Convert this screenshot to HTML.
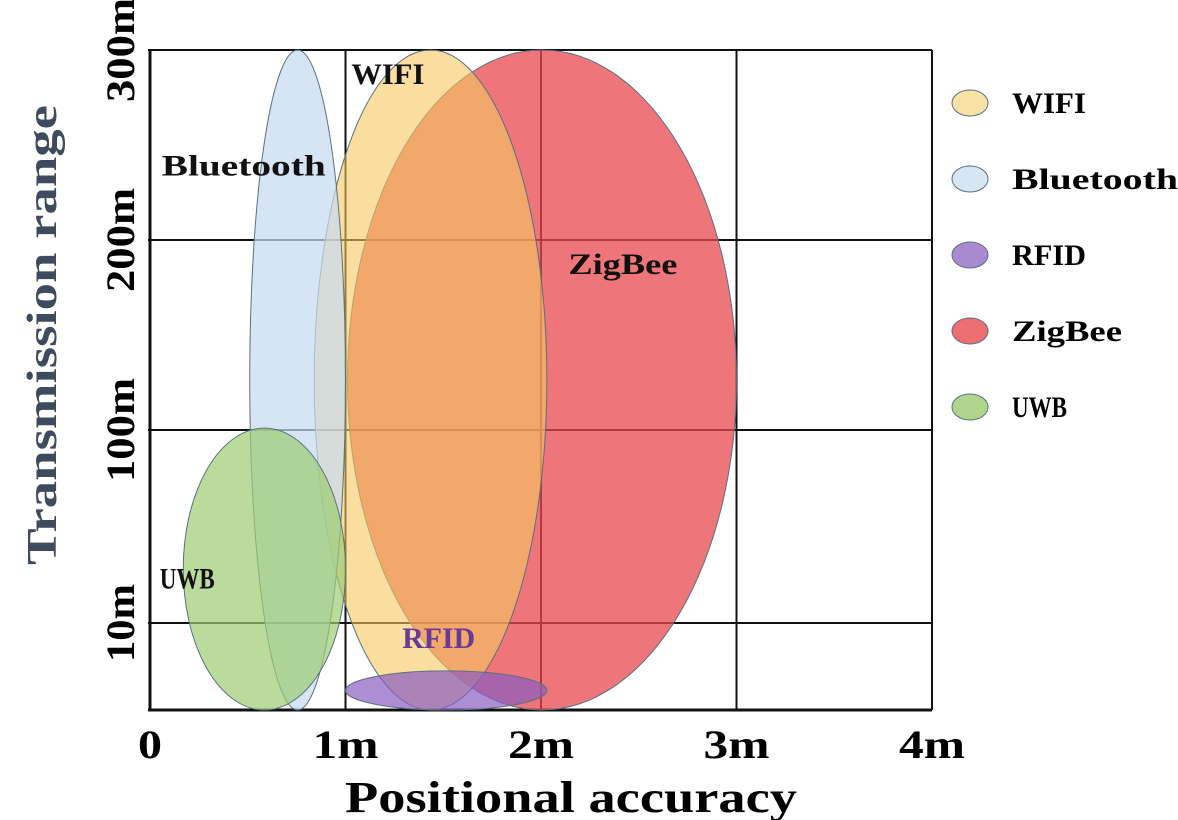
<!DOCTYPE html>
<html><head><meta charset="utf-8"><style>
body{margin:0;background:#fff;}
svg{display:block;font-family:"Liberation Serif",serif;font-weight:bold;}
</style></head><body>
<svg id="chart" width="1178" height="820" viewBox="0 0 1178 820">
<g id="grid"></g>
<g id="marks"></g>
<g id="labels"></g>
<g id="axes"></g>
<g id="legend"></g>
<text x="345" y="812" font-size="44" textLength="452" lengthAdjust="spacingAndGlyphs">Positional accuracy</text>
<text transform="translate(56,565) rotate(-90)" font-size="42" fill="#3e4b5e" textLength="460" lengthAdjust="spacingAndGlyphs">Transmission range</text>
</svg>
<script>
const NS="http://www.w3.org/2000/svg";
const xTicks=[0,1,2,3,4];
const xTickLabels=["0","1m","2m","3m","4m"];
const yTicks=[10,100,200,300];
const yTickLabels=["10m","100m","200m","300m"];
const series=["ZigBee","WIFI","Bluetooth","UWB","RFID"];
const xMin=[1.01,0.84,0.51,0.17,1.0];
const xMax=[3.0,2.03,1.0,1.0,2.03];
const yMin=[0,0,0,0,0];
const yMax=[300,300,300,101,4.5];
const colors=["#e8484e","#f5c860","#c6dbee","#9ccc72","#8a5cc0"];
const opac=[0.75,0.6,0.72,0.7,0.7];
const legendOrder=["WIFI","Bluetooth","RFID","ZigBee","UWB"];
const legendColors=["#f8e2a6","#d6e6f3","#a98ad0","#ee6f72","#b0d68e"];
const labelText=["ZigBee","WIFI","Bluetooth","UWB","RFID"];
const labelX=[2.14,1.03,0.06,0.05,1.29];
const labelY=[182,282,234,26,7.1];
const labelFill=["#111","#111","#111","#111","#6a3a9a"];

const yDom=[0,10,100,200,300], yRng=[710,623,430,240,50];
function X(v){return 150+v*195.5;}
function Y(v){for(let i=0;i<yDom.length-1;i++){if(v<=yDom[i+1]||i==yDom.length-2){return yRng[i]+(v-yDom[i])/(yDom[i+1]-yDom[i])*(yRng[i+1]-yRng[i]);}}}
function mk(t,a,p){const e=document.createElementNS(NS,t);for(const k in a)e.setAttribute(k,a[k]);p.appendChild(e);return e;}
function tl(s,per){return Math.round(s.length*per);}
const grid=document.getElementById('grid'),marks=document.getElementById('marks'),labels=document.getElementById('labels'),axes=document.getElementById('axes'),legend=document.getElementById('legend');
xTicks.forEach((t,i)=>{
 const l=mk('line',{x1:X(t),x2:X(t),y1:Y(300),y2:Y(0),stroke:'#111','stroke-width':i==0?3:2},grid);
 
 
 const s=xTickLabels[i];
 const tx=mk('text',{x:X(t),y:758,'font-size':40,'text-anchor':'middle',textLength:s.length==1?24:66,lengthAdjust:'spacingAndGlyphs'},axes);
 
 
 tx.textContent=s;
});
[0].concat(yTicks).forEach((t)=>{
 const l=mk('line',{x1:148,x2:X(4),y1:Y(t),y2:Y(t),stroke:'#111','stroke-width':t==0?3:2},grid);
 
 
});
yTicks.forEach((t,i)=>{
 const s=yTickLabels[i];
 const tx=mk('text',{transform:`translate(134,${Y(t)}) rotate(-90)`,'font-size':40,'text-anchor':'middle',textLength:tl(s,26),lengthAdjust:'spacingAndGlyphs'},axes);
 
 
 tx.textContent=s;
});
series.forEach((s,i)=>{
 const cx=(X(xMin[i])+X(xMax[i]))/2, rx=(X(xMax[i])-X(xMin[i]))/2;
 const cy=(Y(yMin[i])+Y(yMax[i]))/2, ry=(Y(yMin[i])-Y(yMax[i]))/2;
 const e=mk('ellipse',{cx,cy,rx,ry,fill:colors[i],'fill-opacity':opac[i],stroke:'#5a7080','stroke-width':1},marks);
 
 
});
labelText.forEach((s,i)=>{
 const t=mk('text',{x:X(labelX[i]),y:Y(labelY[i]),'font-size':30,fill:labelFill[i],textLength:tl(s,18.2),lengthAdjust:'spacingAndGlyphs'},labels);
 
 
 t.textContent=s;
});
legendOrder.forEach((s,i)=>{
 const y=103+i*76;
 const e=mk('ellipse',{cx:970,cy:y,rx:18,ry:13,fill:legendColors[i],stroke:'#5a7080','stroke-width':1},legend);
 
 
 const t=mk('text',{x:1012,y:y+10,'font-size':30,textLength:tl(s,18.4),lengthAdjust:'spacingAndGlyphs'},legend);
 
 
 t.textContent=s;
});
</script>
</body></html>
